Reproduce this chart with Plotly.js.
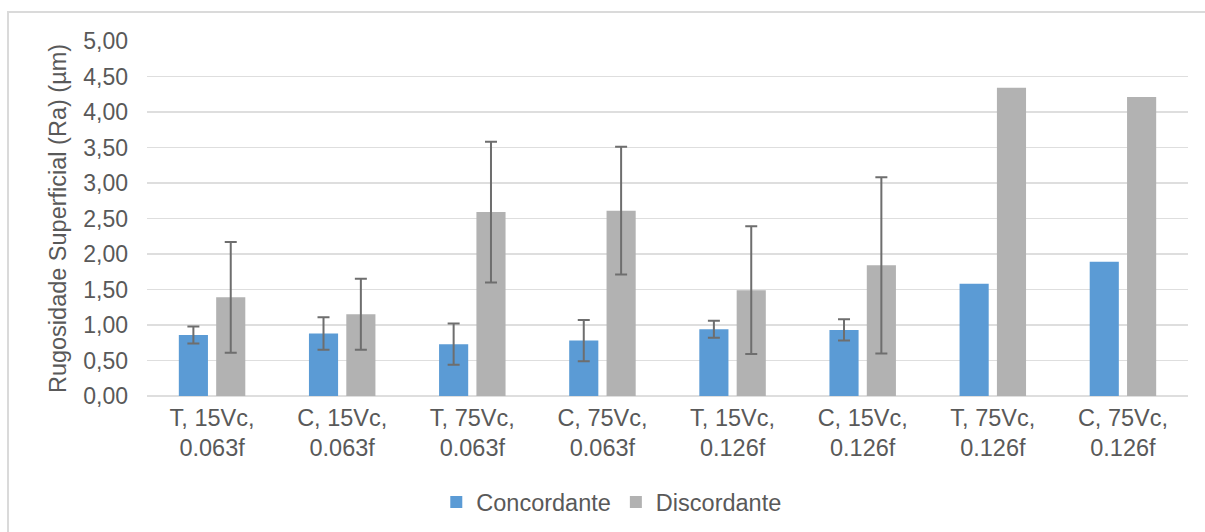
<!DOCTYPE html>
<html>
<head>
<meta charset="utf-8">
<script src="https://cdn.plot.ly/plotly-3.0.1.min.js"></script>
<style>
  html, body { margin: 0; padding: 0; background: #ffffff; overflow: hidden; }
  #chart { width: 1205px; height: 532px; }
  #frame {
    position: absolute; left: 7px; top: 11px; width: 1400px; height: 700px;
    border-left: 2px solid #dadada; border-top: 2px solid #dadada;
    pointer-events: none;
  }
</style>
</head>
<body>
<div id="frame"></div>
<div id="chart"></div>
<script>
// Surface roughness (Ra) per cutting condition, up-milling vs down-milling
const categories = [
  "T, 15Vc,<br>0.063f", "C, 15Vc,<br>0.063f", "T, 75Vc,<br>0.063f", "C, 75Vc,<br>0.063f",
  "T, 15Vc,<br>0.126f", "C, 15Vc,<br>0.126f", "T, 75Vc,<br>0.126f", "C, 75Vc,<br>0.126f"
];
const concordante = [0.86, 0.88, 0.73, 0.78, 0.94, 0.93, 1.58, 1.89];
const concordanteErr = [0.12, 0.23, 0.29, 0.29, 0.12, 0.15, null, null];
const discordante = [1.39, 1.15, 2.59, 2.61, 1.49, 1.84, 4.34, 4.21];
const discordanteErr = [0.78, 0.50, 0.99, 0.90, 0.90, 1.24, null, null];
const yTicks = [0, 0.5, 1, 1.5, 2, 2.5, 3, 3.5, 4, 4.5, 5];

const textColor = "#595959";
const fontFamily = "Liberation Sans, Arial, sans-serif";

// conditions without a measured spread get no error bar at all
const noBarWhenMissing = arr => arr.map(v => (v === null ? NaN : v));

const errStyle = { type: "data", visible: true, color: "#6e6e6e", thickness: 2, width: 6 };

const traces = [
  {
    type: "bar", name: "Concordante", x: categories, y: concordante,
    marker: { color: "#5b9bd5" },
    error_y: Object.assign({ array: noBarWhenMissing(concordanteErr) }, errStyle),
    hoverinfo: "y"
  },
  {
    type: "bar", name: "Discordante", x: categories, y: discordante,
    marker: { color: "#b2b2b2" },
    error_y: Object.assign({ array: noBarWhenMissing(discordanteErr) }, errStyle),
    hoverinfo: "y"
  }
];

const layout = {
  width: 1205, height: 532,
  margin: { l: 147, r: 17, t: 41, b: 136, autoexpand: false },
  paper_bgcolor: "rgba(0,0,0,0)",
  plot_bgcolor: "#ffffff",
  separators: ",.",
  barmode: "group",
  bargap: 0.426,
  bargroupgap: 0.22,
  font: { family: fontFamily, color: textColor, size: 23 },
  showlegend: true,
  legend: {
    orientation: "h", x: 0.446, xanchor: "center",
    yref: "container", y: 0.056, yanchor: "middle",
    font: { size: 23.5, color: textColor }, itemwidth: 30, traceorder: "normal"
  },
  xaxis: {
    type: "category", showgrid: false, showline: false, zeroline: false,
    ticks: "", tickfont: { size: 23.5, color: textColor }, ticklabelstandoff: 5,
    fixedrange: true
  },
  yaxis: {
    range: [0, 5], tickvals: yTicks, tickformat: ".2f",
    showgrid: true, gridcolor: "#dedede", gridwidth: 1.5,
    zeroline: true, zerolinecolor: "#dedede", zerolinewidth: 1.5,
    showline: false, ticks: "", ticklabelstandoff: 18,
    tickfont: { size: 23, color: textColor },
    title: { text: "Rugosidade Superficial (Ra) (µm)", font: { size: 23.5, color: textColor }, standoff: 10 },
    fixedrange: true
  }
};

Plotly.newPlot("chart", traces, layout, { displayModeBar: false, staticPlot: true });
</script>
</body>
</html>
